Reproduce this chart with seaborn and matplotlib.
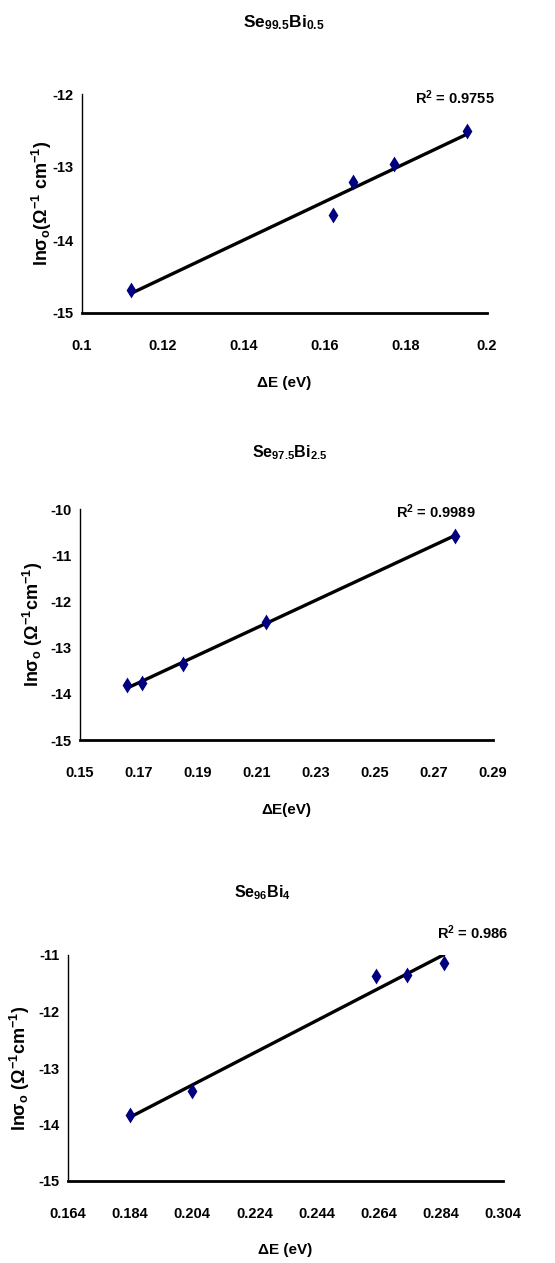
import numpy as np
import pandas as pd
import matplotlib
matplotlib.use("Agg")
import matplotlib.pyplot as plt
import seaborn as sns

# ---- data ----
titles = [r"Se$_{\mathbf{99.5}}$Bi$_{\mathbf{0.5}}$",
          r"Se$_{\mathbf{97.5}}$Bi$_{\mathbf{2.5}}$",
          r"Se$_{\mathbf{96}}$Bi$_{\mathbf{4}}$"]

dE_1 = [0.112, 0.162, 0.167, 0.177, 0.195]
ln_1 = [-14.68, -13.66, -13.21, -12.96, -12.51]

dE_2 = [0.166, 0.171, 0.185, 0.213, 0.277]
ln_2 = [-13.82, -13.77, -13.35, -12.45, -10.58]

dE_3 = [0.184, 0.204, 0.263, 0.273, 0.285]
ln_3 = [-13.84, -13.40, -11.38, -11.35, -11.15]

r2_labels = [r"R$^{\mathbf{2}}$ = 0.9755", r"R$^{\mathbf{2}}$ = 0.9989", r"R$^{\mathbf{2}}$ = 0.986"]

xticks_1 = [0.1, 0.12, 0.14, 0.16, 0.18, 0.2]
xticklabels_1 = ["0.1", "0.12", "0.14", "0.16", "0.18", "0.2"]
xticks_2 = [0.15, 0.17, 0.19, 0.21, 0.23, 0.25, 0.27, 0.29]
xticklabels_2 = ["0.15", "0.17", "0.19", "0.21", "0.23", "0.25", "0.27", "0.29"]
xticks_3 = [0.164, 0.184, 0.204, 0.224, 0.244, 0.264, 0.284, 0.304]
xticklabels_3 = ["0.164", "0.184", "0.204", "0.224", "0.244", "0.264", "0.284", "0.304"]

yticks_1 = [-15, -14, -13, -12]
yticks_2 = [-15, -14, -13, -12, -11, -10]
yticks_3 = [-15, -14, -13, -12, -11]

ylabels = [r"ln$\sigma_{\mathbf{o}}$($\Omega^{\mathbf{-1}}$ cm$^{\mathbf{-1}}$)",
           r"ln$\sigma_{\mathbf{o}}$ ($\Omega^{\mathbf{-1}}$cm$^{\mathbf{-1}}$)",
           r"ln$\sigma_{\mathbf{o}}$ ($\Omega^{\mathbf{-1}}$cm$^{\mathbf{-1}}$)"]
xlabels = ["ΔE (eV)", "ΔE(eV)", "ΔE (eV)"]

# ---- style ----
sns.set_theme(style="white")
plt.rcParams["font.family"] = ["Liberation Sans", "DejaVu Sans"]
plt.rcParams["font.weight"] = "bold"
plt.rcParams["text.color"] = "black"
plt.rcParams["axes.labelcolor"] = "black"
plt.rcParams["xtick.color"] = "black"
plt.rcParams["ytick.color"] = "black"
plt.rcParams["axes.unicode_minus"] = False
plt.rcParams["mathtext.fontset"] = "custom"
plt.rcParams["mathtext.rm"] = "Liberation Sans:bold"
plt.rcParams["mathtext.bf"] = "Liberation Sans:bold"
plt.rcParams["mathtext.it"] = "Liberation Sans:bold"
plt.rcParams["mathtext.default"] = "bf"

fig = plt.figure(figsize=(5.55, 12.63), dpi=100)

W, H = 555, 1263
boxes = [(82, 487, 94, 313), (80, 493, 509, 740), (68, 503, 955, 1181)]
ylims = [(-15, -12), (-15, -10), (-15, -11)]
xlims = [(0.1, 0.2), (0.15, 0.29), (0.164, 0.304)]
datasets = [(dE_1, ln_1), (dE_2, ln_2), (dE_3, ln_3)]
xt = [(xticks_1, xticklabels_1), (xticks_2, xticklabels_2), (xticks_3, xticklabels_3)]
yt = [yticks_1, yticks_2, yticks_3]
title_pos = [(0.499, 1.324), (0.508, 1.242), (0.448, 1.274)]
title_size = [12.5, 11.5, 11.5]
r2_pos = [(0.921, 0.982), (0.862, 0.987), (0.931, 1.097)]
ylab_x = [-0.0988, -0.1138, -0.1103]
xlab_y = [-0.3196, -0.303, -0.305]

diamond = [(0, 1), (0.62, 0), (0, -1), (-0.62, 0), (0, 1)]

for i in range(3):
    l, r, t, b = boxes[i]
    ax = fig.add_axes([l / W, 1 - b / H, (r - l) / W, (b - t) / H])
    x, y = datasets[i]
    df = pd.DataFrame({"dE": x, "ln": y})
    slope, icpt = np.polyfit(df["dE"], df["ln"], 1)
    fit = pd.DataFrame({"dE": [min(x), max(x)]})
    fit["ln"] = slope * fit["dE"] + icpt
    sns.lineplot(data=fit, x="dE", y="ln", ax=ax, color="black", lw=2.4, zorder=2)
    sns.scatterplot(data=df, x="dE", y="ln", ax=ax, marker=diamond, s=130,
                    color="#000080", edgecolor="#000080", linewidth=0, zorder=3)
    ax.set_xlim(*xlims[i])
    ax.set_ylim(*ylims[i])
    ax.set_xticks(xt[i][0])
    ax.set_xticklabels(xt[i][1])
    ax.set_yticks(yt[i])
    ax.set_yticklabels([str(v) for v in yt[i]])
    for sp in ["top", "right"]:
        ax.spines[sp].set_visible(False)
    ax.spines["left"].set_color("black")
    ax.spines["left"].set_linewidth(1.0)
    ax.spines["bottom"].set_color("black")
    ax.spines["bottom"].set_linewidth(2.0)
    ax.tick_params(axis="both", direction="out", length=4, width=1, color="black",
                   labelsize=10.5, labelcolor="black")
    ax.tick_params(axis="x", pad=15)
    ax.tick_params(axis="y", pad=2)
    for lab in ax.get_xticklabels() + ax.get_yticklabels():
        lab.set_fontweight("bold")
    ax.set_xlabel(xlabels[i], fontsize=11, fontweight="bold", va="center")
    ax.xaxis.set_label_coords(0.5, xlab_y[i])
    ax.set_ylabel(ylabels[i], fontsize=13, fontweight="bold", va="center")
    ax.yaxis.set_label_coords(ylab_x[i], 0.5)
    ax.text(*title_pos[i], titles[i], transform=ax.transAxes, ha="center", va="center",
            fontsize=title_size[i], fontweight="bold")
    ax.text(*r2_pos[i], r2_labels[i], transform=ax.transAxes, ha="center", va="center",
            fontsize=10.5, fontweight="bold")
    ax.grid(False)

fig.savefig("out.png", dpi=100, facecolor="white")
